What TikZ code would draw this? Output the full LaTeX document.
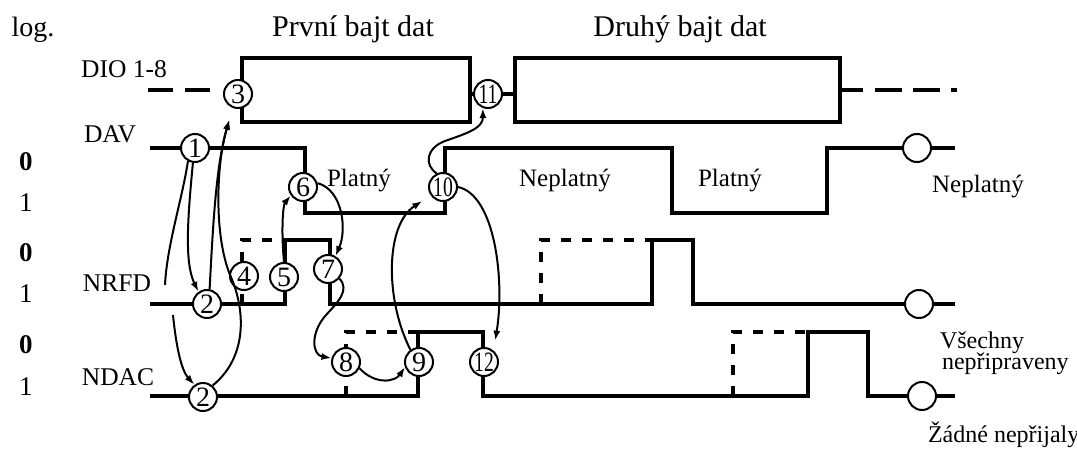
\documentclass[tikz,border=0pt]{standalone}
\usepackage{fontspec}
\setmainfont{Liberation Serif}
\usepackage{graphicx}
\usetikzlibrary{arrows.meta}

\newcommand{\twodig}[1]{\scalebox{0.7}[1]{#1}}

\begin{document}
\begin{tikzpicture}[x=0.5pt, y=-0.5pt,
  sig/.style={line width=2pt},
  sigdash/.style={line width=2pt, dash pattern=on 5pt off 5.5pt},
  num/.style={circle, draw, fill=white, line width=1pt, minimum size=14pt, inner sep=0pt, font=\fontsize{14}{14}\selectfont},
  endc/.style={circle, draw, fill=white, line width=1pt, minimum size=14pt, inner sep=0pt},
  arr/.style={line width=1pt, -{Latex[length=5pt,width=3.5pt]}},
  head/.style={anchor=base, font=\fontsize{15}{18}\selectfont},
  lbl/.style={anchor=base, font=\fontsize{12.75}{15}\selectfont},
  lvl/.style={anchor=base, font=\fontsize{13.5}{15}\selectfont},
  st/.style={anchor=base, font=\fontsize{12.5}{15}\selectfont},
  note/.style={anchor=base west, font=\fontsize{12}{14}\selectfont}]

  \useasboundingbox (0,0) rectangle (1077,449);

  % headings
  \node[anchor=base, font=\fontsize{14}{16}\selectfont] (log) at (33,37) {log.};
  \node[head] (byte1) at (353,37) {První bajt dat};
  \node[head] (byte2) at (680,37) {Druhý bajt dat};

  % signal names
  \node[lbl] (dio) at (124,78) {DIO 1-8};
  \node[lbl] (dav) at (110,143) {DAV};
  \node[lbl] (nrfd) at (117,292) {NRFD};
  \node[lbl] (ndac) at (118,385) {NDAC};

  % logic levels
  \foreach \yy/\t [count=\i] in {170/\textbf{0}, 212/1, 262/\textbf{0}, 302/1, 353/\textbf{0}, 395/1}
    \node[lvl] (lv\i) at (26,\yy) {\t};

  % DIO 1-8
  \draw[sig, dash pattern=on 12.5pt off 6pt] (148,90) -- (210,90);
  \draw[sig] (242,58) rectangle (470,122);
  \draw[sig] (470,94) -- (515,94);
  \draw[sig] (515,58) rectangle (840,122);
  \draw[sig] (840,90) -- (863,90);
  \draw[sig, dash pattern=on 13.5pt off 5.5pt] (875,90) -- (957,90);

  % DAV
  \draw[sig] (150,148) -| (305,213) -| (445,148) -| (672,213) -| (827,148) -- (955,148);

  % NRFD
  \draw[sig] (150,304) -| (285,240) -| (330,304) -| (652,240) -| (693,304) -- (955,304);
  \draw[sigdash] (242,304) -- (242,240) -- (285,240);
  \draw[sigdash] (541,304) -- (541,240) -- (652,240);

  % NDAC
  \draw[sig] (150,396) -| (418,332) -| (483,396) -| (808,332) -| (868,396) -- (955,396);
  \draw[sigdash] (346,396) -- (346,332) -- (418,332);
  \draw[sigdash] (733,396) -- (733,332) -- (808,332);

  % steps
  \node[num] (c1) at (195,148) {1};
  \node[num] (c2a) at (207,304) {2};
  \node[num] (c2b) at (203,397) {2};
  \node[num] (c3) at (238,94) {3};
  \node[num] (c4) at (244,276) {4};
  \node[num] (c5) at (284,277) {5};
  \node[num] (c6) at (303,187) {6};
  \node[num] (c7) at (328,269) {7};
  \node[num] (c8) at (346,362) {8};
  \node[num] (c9) at (419,362) {9};
  \node[num] (c10) at (443,187) {\twodig{10}};
  \node[num] (c11) at (488,94) {\twodig{11}};
  \node[num] (c12) at (484,362) {\twodig{12}};

  % line ends
  \node[endc] (e1) at (917,148) {};
  \node[endc] (e2) at (919,304) {};
  \node[endc] (e3) at (922,396) {};

  % states
  \node[st] (val1) at (359,187) {Platný};
  \node[st] (inv1) at (565,187) {Neplatný};
  \node[st] (val2) at (730,187) {Platný};
  \node[st] (inv2) at (978,192) {Neplatný};
  \node[note] (all) at (933,348) {Všechny};
  \node[note] (notrdy) at (935,369) {nepřipraveny};
  \node[note] (none) at (921,442) {Žádné nepřijaly};

  % handshake
  \coordinate (g1) at (165,285);
  \coordinate (g2) at (173,315);
  \draw[arr] (c1.262) .. controls (188,215) and (184,262) .. (c2a.125);
  \draw[line width=1pt] (c1.242) .. controls (182,200) and (167,245) .. (g1);
  \draw[arr] (g2) .. controls (176,345) and (181,370) .. (c2b.125);
  \draw[arr, shorten >=6pt] (c2a.80) .. controls (213,225) and (216,165) .. (c3.250);
  \draw[arr, shorten >=6pt] (c2b.50) .. controls (250,355) and (244,305) .. (230,275)
    .. controls (214,235) and (216,165) .. (c3.250);
  \draw[arr] (c5.north) .. controls (281,230) and (283,205) .. (c6.215);
  \draw[arr] (c6.15) .. controls (343,190) and (347,230) .. (c7.60);
  \draw[arr] (c7.-40) .. controls (350,290) and (338,302) .. (326,315)
    .. controls (310,333) and (312,355) .. (c8.165);
  \draw[arr] (c8.-25) .. controls (375,385) and (395,382) .. (c9.200);
  \draw[arr, shorten >=5pt] (c9.125) .. controls (385,300) and (385,225) .. (c10.215);
  \draw[arr, shorten >=5pt] (c10.east) .. controls (495,195) and (505,280) .. (c12.50);
  \draw[arr] (c10.115) .. controls (424,165) and (426,148) .. (445,141)
    .. controls (468,133) and (483,128) .. (c11.250);

\end{tikzpicture}
\end{document}
